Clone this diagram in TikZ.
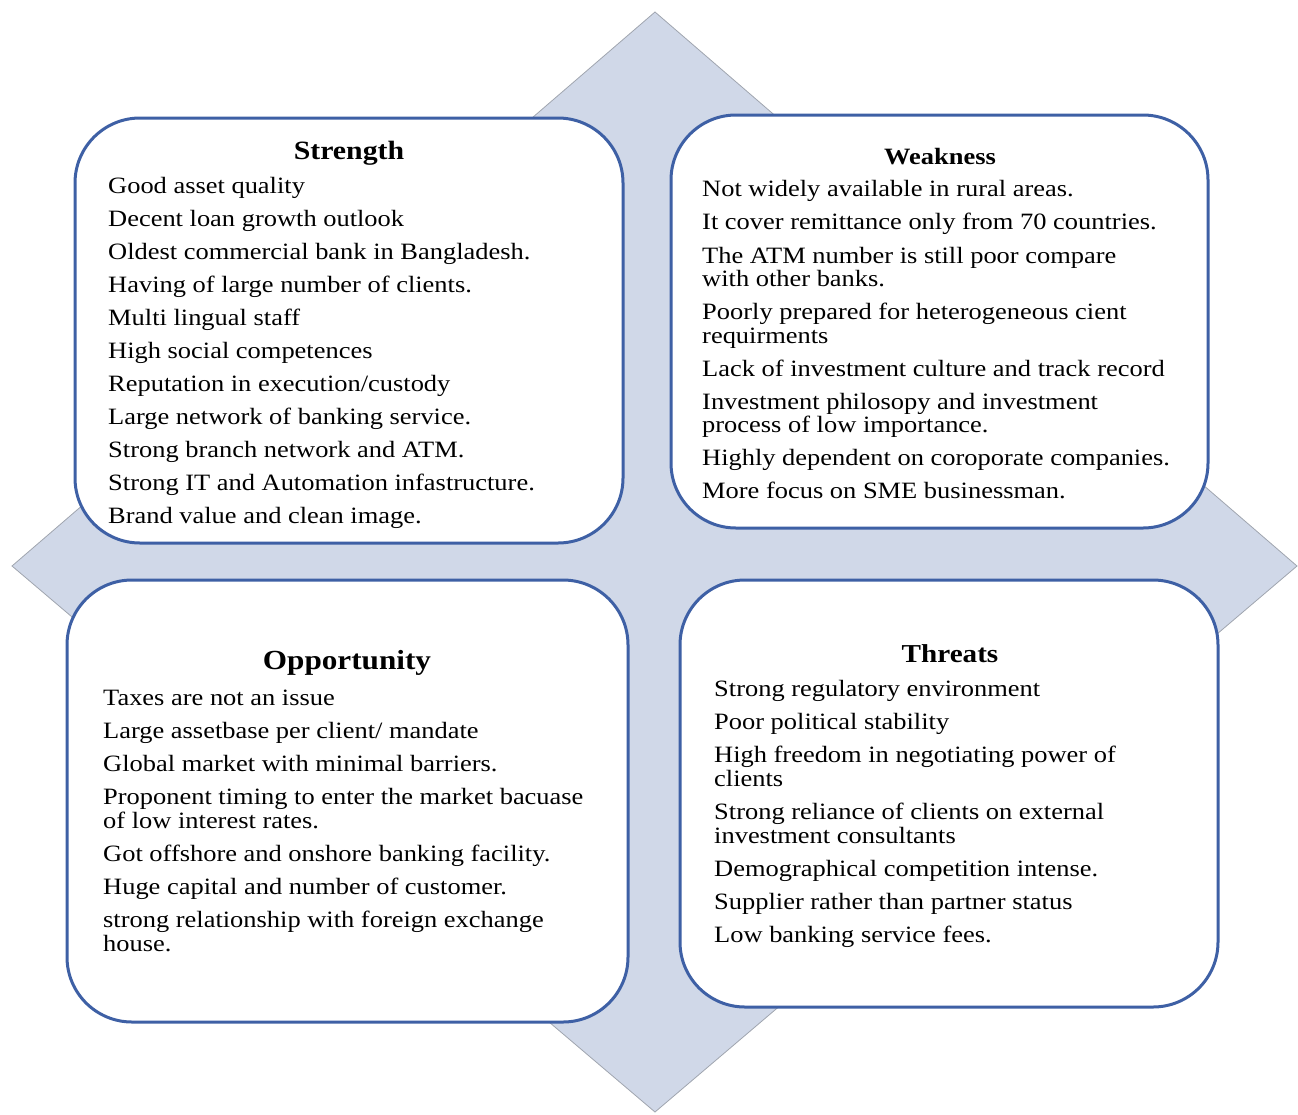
\documentclass[tikz,border=0pt]{standalone}
\usepackage{fontspec}
\setmainfont{Liberation Serif}[FakeStretch=1.13]
\begin{document}
\begin{tikzpicture}[x=1pt,y=-1pt,
  boxsty/.style={draw=boxblue, line width=3pt, fill=white, rounded corners=65pt, inner sep=0pt},
  itm/.style={anchor=base west, inner sep=0pt, font=\fontsize{23.4}{24}\selectfont},
  ttl/.style={anchor=base, inner sep=0pt, font=\fontsize{#1}{#1}\selectfont\bfseries}]
\definecolor{boxblue}{RGB}{62,96,165}
\definecolor{diafill}{RGB}{208,216,232}
\definecolor{diaedge}{RGB}{160,165,175}
\useasboundingbox (0,0) rectangle (1298,1114);
% diamond background
\coordinate (dt) at (655,12);
\coordinate (dr) at (1297,566);
\coordinate (db) at (655,1112);
\coordinate (dl) at (12,566);
\draw[fill=diafill, draw=diaedge, line width=0.8pt] (dt) -- (dr) -- (db) -- (dl) -- cycle;
% boxes
\node[boxsty, minimum width=548pt, minimum height=425pt] (S) at (349,330.5) {};
\node[boxsty, minimum width=537pt, minimum height=413pt] (W) at (939.5,321.5) {};
\node[boxsty, minimum width=561pt, minimum height=442pt] (O) at (347.5,801) {};
\node[boxsty, minimum width=538pt, minimum height=427pt] (T) at (949,793.5) {};
% Strength
\node[ttl=26.4] (st) at (349,159) {Strength};
\node[itm] (s1) at (108,193) {Good asset quality};
\node[itm] (s2) at (108,226) {Decent loan growth outlook};
\node[itm] (s3) at (108,259) {Oldest commercial bank in Bangladesh.};
\node[itm] (s4) at (108,292) {Having of large number of clients.};
\node[itm] (s5) at (108,325) {Multi lingual staff};
\node[itm] (s6) at (108,358) {High social competences};
\node[itm] (s7) at (108,391) {Reputation in execution/custody};
\node[itm] (s8) at (108,424) {Large network of banking service.};
\node[itm] (s9) at (108,457) {Strong branch network and ATM.};
\node[itm] (s10) at (108,490) {Strong IT and Automation infastructure.};
\node[itm] (s11) at (108,523) {Brand value and clean image.};
% Weakness
\node[ttl=23.4] (wt) at (940,164) {Weakness};
\node[itm] (w1) at (702,196) {Not widely available in rural areas.};
\node[itm] (w2) at (702,229) {It cover remittance only from 70 countries.};
\node[itm] (w3a) at (702,263) {The ATM number is still poor compare};
\node[itm] (w3b) at (702,286) {with other banks.};
\node[itm] (w4a) at (702,319) {Poorly prepared for heterogeneous cient};
\node[itm] (w4b) at (702,343) {requirments};
\node[itm] (w5) at (702,376) {Lack of investment culture and track record};
\node[itm] (w6a) at (702,409) {Investment philosopy and investment};
\node[itm] (w6b) at (702,432) {process of low importance.};
\node[itm] (w7) at (702,465) {Highly dependent on coroporate companies.};
\node[itm] (w8) at (702,498) {More focus on SME businessman.};
% Opportunity
\node[ttl=27.6] (ot) at (347,669) {Opportunity};
\node[itm] (o1) at (103,705) {Taxes are not an issue};
\node[itm] (o2) at (103,738) {Large assetbase per client/ mandate};
\node[itm] (o3) at (103,771) {Global market with minimal barriers.};
\node[itm] (o4a) at (103,804) {Proponent timing to enter the market bacuase};
\node[itm] (o4b) at (103,828) {of low interest rates.};
\node[itm] (o5) at (103,861) {Got offshore and onshore banking facility.};
\node[itm] (o6) at (103,894) {Huge capital and number of customer.};
\node[itm] (o7a) at (103,927) {strong relationship with foreign exchange};
\node[itm] (o7b) at (103,951) {house.};
% Threats
\node[ttl=25.8] (tt) at (950,662) {Threats};
\node[itm] (t1) at (714,696) {Strong regulatory environment};
\node[itm] (t2) at (714,729) {Poor political stability};
\node[itm] (t3a) at (714,762) {High freedom in negotiating power of};
\node[itm] (t3b) at (714,786) {clients};
\node[itm] (t4a) at (714,819) {Strong reliance of clients on external};
\node[itm] (t4b) at (714,843) {investment consultants};
\node[itm] (t5) at (714,876) {Demographical competition intense.};
\node[itm] (t6) at (714,909) {Supplier rather than partner status};
\node[itm] (t7) at (714,942) {Low banking service fees.};
\end{tikzpicture}
\end{document}
